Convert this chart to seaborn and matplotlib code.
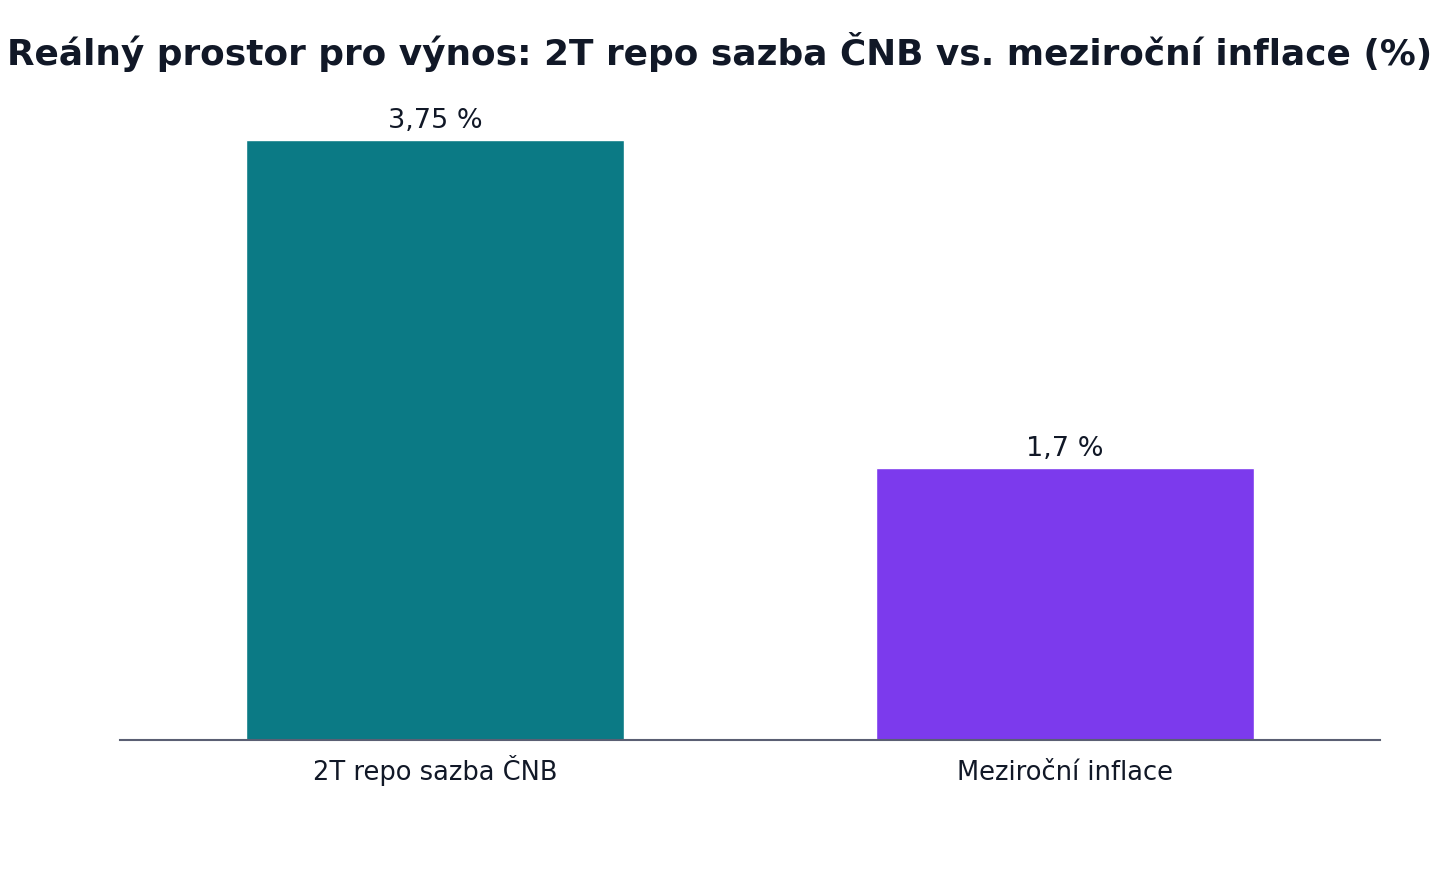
import matplotlib
matplotlib.use("Agg")
import matplotlib.pyplot as plt
import seaborn as sns
import pandas as pd

categories = ["2T repo sazba ČNB", "Meziroční inflace"]
values = [3.75, 1.7]
value_labels = ["3,75 %", "1,7 %"]
bar_colors = ["#0b7a85", "#7c3aed"]

sns.set_theme(style="white")
plt.rcParams['font.family'] = ['DejaVu Sans']

df = pd.DataFrame({"kategorie": categories, "hodnota": values})

fig = plt.figure(figsize=(14.4, 8.8), dpi=100)
ax = fig.add_axes([120 / 1440, 140 / 880, 1260 / 1440, 660 / 880])

sns.barplot(data=df, x="kategorie", y="hodnota", hue="kategorie",
            palette=bar_colors, width=0.6, saturation=1, legend=False, ax=ax)

for i, (v, lab) in enumerate(zip(values, value_labels)):
    ax.annotate(lab, (i, v), xytext=(0, 8.6), textcoords="offset points",
                ha="center", va="baseline", fontsize=19.5, color="#111827")

ax.set_xlim(-0.5, 1.5)
ax.set_ylim(0, 4.125)
ax.set_xlabel("")
ax.set_ylabel("")
ax.set_yticks([])
ax.tick_params(axis="x", labelsize=18.5, colors="#111827", length=0, pad=28.5)
for t in ax.get_xticklabels():
    t.set_verticalalignment("baseline")
for s in ["top", "right", "left"]:
    ax.spines[s].set_visible(False)
ax.spines["bottom"].set_color("#5a5f73")
ax.spines["bottom"].set_linewidth(1.5)

fig.suptitle("Reálný prostor pro výnos: 2T repo sazba ČNB vs. meziroční inflace (%)",
             fontsize=25.8, fontweight="bold", color="#111827", y=1 - 52 / 880, va="center")

fig.savefig("out.png", dpi=100)
